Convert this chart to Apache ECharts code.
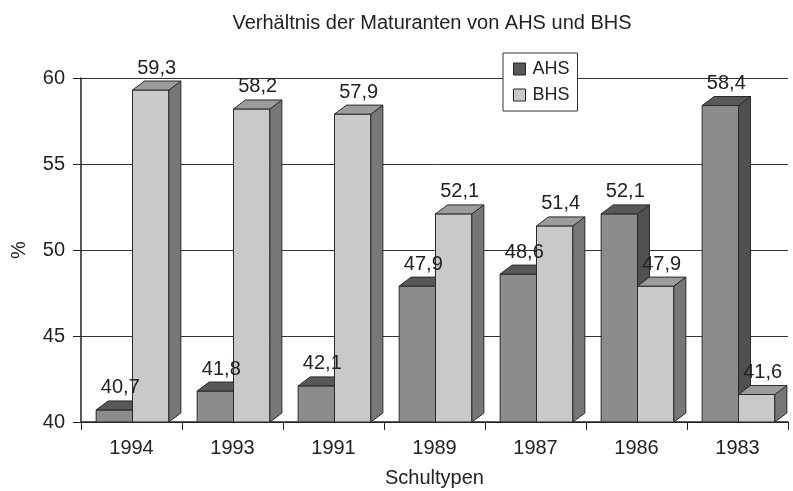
<!DOCTYPE html>
<html><head><meta charset="utf-8">
<script src="https://cdn.jsdelivr.net/npm/echarts@6/dist/echarts.min.js"></script>
<style>html,body{margin:0;padding:0;background:#fff}#c{width:793px;height:491px}</style>
</head><body><div id="c"></div>
<script>
const categories = ['1994','1993','1991','1989','1987','1986','1983'];
const ahs = [40.7, 41.8, 42.1, 47.9, 48.6, 52.1, 58.4];
const bhs = [59.3, 58.2, 57.9, 52.1, 51.4, 47.9, 41.6];
const yTicks = [40, 45, 50, 55, 60];

const FONT = '"Liberation Sans", Arial, sans-serif';
const styles = {
  AHS: {front:'#8c8c8e', top:'#58585a', side:'#505052', start:0.15},
  BHS: {front:'#c8c9cb', top:'#9c9c9e', side:'#77777a', start:0.51}
};
const fmt = v => String(v.toFixed(1)).replace('.', ',');

function makeRender(name) {
  const st = styles[name];
  return function (params, api) {
    const idx = api.value(0);
    const val = api.value(1);
    const band = api.size([1, 0])[0];
    const c = api.coord([idx, val]);
    const base = api.coord([idx, yTicks[0]]);
    const x0 = c[0] - band / 2 + band * st.start;
    const bw = band * 0.36;
    const x1 = x0 + bw;
    const dx = 12, dy = -9;
    const yt = c[1], yb = base[1];
    const line = {stroke:'#2a2a2a', lineWidth:1};
    return {
      type:'group',
      children:[
        {type:'polygon', shape:{points:[[x0,yb],[x1,yb],[x1,yt],[x0,yt]]}, style:Object.assign({fill:st.front}, line)},
        {type:'polygon', shape:{points:[[x1,yb],[x1+dx,yb+dy],[x1+dx,yt+dy],[x1,yt]]}, style:Object.assign({fill:st.side}, line)},
        {type:'polygon', shape:{points:[[x0,yt],[x1,yt],[x1+dx,yt+dy],[x0+dx,yt+dy]]}, style:Object.assign({fill:st.top}, line)},
        {type:'text', z2:10, style:{text:fmt(val), x:(x0+x1)/2 + dx/2, y:yt+dy-3, align:'center', verticalAlign:'bottom',
          fill:'#222', font:'20px ' + FONT}}
      ]
    };
  };
}

const chart = echarts.init(document.getElementById('c'));
chart.setOption({
  animation:false,
  backgroundColor:'#fff',
  title:{text:'Verhältnis der Maturanten von AHS und BHS', left:427, top:8, textAlign:'center',
    textStyle:{fontFamily:FONT, fontSize:20, fontWeight:'normal', color:'#222'}},
  grid:{left:81, right:5, top:78, bottom:69, outerBoundsMode:'none', containLabel:false},
  legend:{orient:'vertical', left:503, top:53, padding:[7,8,7,10], itemWidth:12, itemHeight:12, itemGap:8, icon:'rect',
    borderColor:'#333', borderWidth:1, backgroundColor:'#fff',
    textStyle:{fontFamily:FONT, fontSize:18, color:'#222', padding:[0,0,0,2]},
    data:[{name:'AHS', itemStyle:{color:'#58585a', borderColor:'#222', borderWidth:1}},
          {name:'BHS', itemStyle:{color:'#c8c9cb', borderColor:'#222', borderWidth:1}}]},
  xAxis:{type:'category', data:categories, name:'Schultypen', nameLocation:'middle', nameGap:46,
    nameTextStyle:{fontFamily:FONT, fontSize:20, color:'#222'},
    axisLine:{lineStyle:{color:'#222', width:1.5}},
    axisTick:{show:true, length:8, lineStyle:{color:'#222'}},
    axisLabel:{fontFamily:FONT, fontSize:20, color:'#222', margin:16}},
  yAxis:{type:'value', min:40, max:60, interval:5, name:'%', nameLocation:'middle', nameGap:52, nameRotate:90,
    nameTextStyle:{fontFamily:FONT, fontSize:20, color:'#222'},
    axisLine:{show:true, lineStyle:{color:'#222', width:1.5}},
    axisTick:{show:true, length:8, lineStyle:{color:'#222'}},
    splitLine:{lineStyle:{color:'#333', width:1}},
    axisLabel:{fontFamily:FONT, fontSize:20, color:'#222', margin:16}},
  series:[
    {name:'AHS', type:'custom', renderItem:makeRender('AHS'), itemStyle:{color:'#58585a'},
     encode:{x:0,y:1}, data:ahs.map((v,i)=>[i,v])},
    {name:'BHS', type:'custom', renderItem:makeRender('BHS'), itemStyle:{color:'#c8c9cb'},
     encode:{x:0,y:1}, data:bhs.map((v,i)=>[i,v])}
  ]
});
</script></body></html>
